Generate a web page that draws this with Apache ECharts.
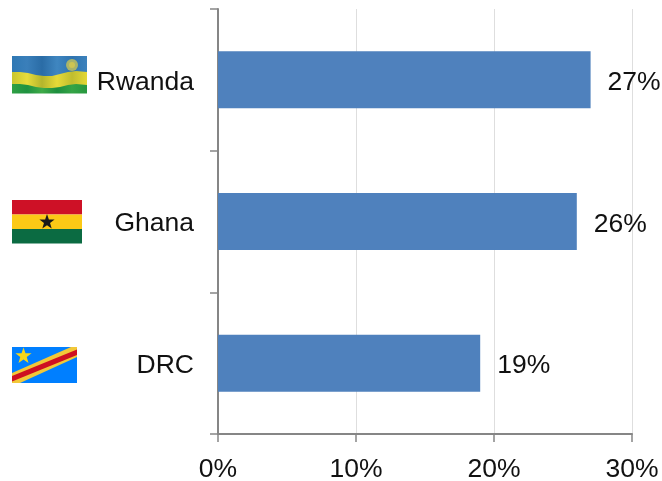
<!DOCTYPE html>
<html>
<head>
<meta charset="utf-8">
<style>
  html, body { margin: 0; padding: 0; background: #fff; }
  #chart { width: 662px; height: 481px; }
</style>
<script src="https://cdn.jsdelivr.net/npm/echarts@6/dist/echarts.min.js"></script>
</head>
<body>
<div id="chart"></div>
<script>
// bottom to top, the axis starts at the origin
const countries = ['DRC', 'Ghana', 'Rwanda'];
const shares = [19, 26, 27];
const ticks = [0, 10, 20, 30];

const font = '"Liberation Sans", Arial, sans-serif';
const textColor = '#111';

// five pointed star for the flags
const star = (cx, cy, r, fill) => {
  const points = [];
  for (let i = 0; i < 10; i++) {
    const rad = i % 2 ? r * 0.4 : r;
    const a = -Math.PI / 2 + i * Math.PI / 5;
    points.push([cx + rad * Math.cos(a), cy + rad * Math.sin(a)]);
  }
  return { type: 'polygon', silent: true, shape: { points }, style: { fill } };
};
const rect = (x, y, width, height, fill) => ({
  type: 'rect', silent: true, shape: { x, y, width, height }, style: { fill }
});
const poly = (points, fill) => ({
  type: 'polygon', silent: true, shape: { points }, style: { fill }
});
const stripes = (stops) => ({
  type: 'linear', x: 0, y: 0, x2: 1, y2: 0,
  colorStops: stops.map((c, i) => ({ offset: i / (stops.length - 1), color: c }))
});

const rwanda = [
  rect(12, 56, 75, 21, stripes(['#2f78b4', '#3a7fba', '#2a6ca6', '#3f86c0', '#2f74b0', '#3c82bc'])),
  poly([[12, 72], [20, 72], [28, 73], [36, 75], [44, 76], [52, 76], [60, 74], [68, 72], [76, 71], [87, 72], [87, 88], [12, 88]],
    stripes(['#c9c62e', '#e8dc3a', '#b5b52c', '#e6da38', '#c0bd2e', '#e4d836'])),
  poly([[12, 84], [20, 84], [28, 85], [36, 87], [44, 88], [52, 88], [60, 87], [68, 85], [76, 84], [87, 85], [87, 93.5], [12, 93.5]],
    stripes(['#2fa044', '#1f9240', '#3fab48', '#1d8e3e', '#35a446', '#27973f'])),
  { type: 'circle', silent: true, shape: { cx: 72, cy: 65, r: 6 }, style: { fill: '#a9b46a' } },
  { type: 'circle', silent: true, shape: { cx: 72, cy: 65, r: 3 }, style: { fill: '#cfc552' } }
];
const ghana = [
  rect(12, 200, 70, 14.5, '#ce1126'),
  rect(12, 214.5, 70, 14.5, '#fcc916'),
  rect(12, 229, 70, 14.5, '#0b6b42'),
  star(47, 222, 8, '#1a1a1a')
];
const drc = [
  rect(12, 347, 65, 36, '#007fff'),
  poly([[12, 373], [71, 347], [77, 347], [77, 357], [20, 383], [12, 383]], '#f2c838'),
  poly([[12, 376], [77, 349.5], [77, 355], [12, 381.5]], '#ce1021'),
  star(23.5, 356, 8.5, '#f7d618')
];

const chart = echarts.init(document.getElementById('chart'));
chart.setOption({
  animation: false,
  backgroundColor: '#fff',
  grid: { left: 218, right: 30, top: 9, bottom: 47, outerBoundsMode: 'none' },
  xAxis: {
    type: 'value',
    min: ticks[0],
    max: ticks[ticks.length - 1],
    interval: 10,
    axisLine: { show: true, lineStyle: { color: '#868686', width: 2 } },
    axisTick: { show: true, length: 8, lineStyle: { color: '#868686', width: 1.5 } },
    axisLabel: {
      formatter: '{value}%',
      color: textColor,
      fontFamily: font,
      fontSize: 26.5,
      margin: 22,
      hideOverlap: false
    },
    splitLine: { show: true, lineStyle: { color: '#dedede', width: 1 } }
  },
  yAxis: {
    type: 'category',
    data: countries,
    axisLine: { show: true, lineStyle: { color: '#868686', width: 2 } },
    axisTick: { show: true, length: 8, lineStyle: { color: '#868686', width: 1.5 } },
    axisLabel: {
      formatter: '{name|{value}}',
      margin: 24,
      rich: {
        name: {
          color: textColor,
          fontFamily: font,
          fontSize: 26.5,
          padding: [5, 0, 0, 0]
        }
      }
    }
  },
  series: [{
    type: 'bar',
    data: shares,
    barWidth: 57,
    itemStyle: { color: '#4f81bd' },
    label: {
      show: true,
      position: 'right',
      distance: 17,
      offset: [0, 3],
      formatter: '{c}%',
      color: textColor,
      fontFamily: font,
      fontSize: 26.5
    }
  }],
  graphic: [...rwanda, ...ghana, ...drc]
});
</script>
</body>
</html>
